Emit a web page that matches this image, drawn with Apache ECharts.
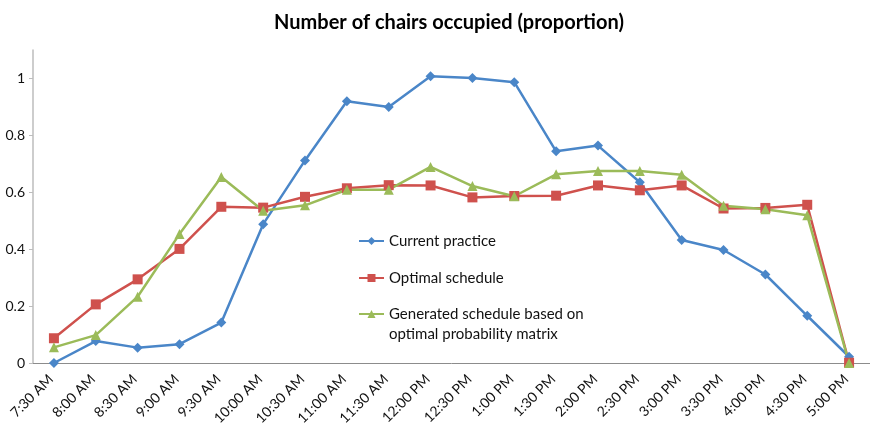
<!DOCTYPE html>
<html>
<head>
<meta charset="utf-8">
<script src="https://cdn.jsdelivr.net/npm/echarts@6/dist/echarts.min.js"></script>
<style>html,body{margin:0;padding:0;background:#fff}#c{width:870px;height:435px}</style>
</head>
<body>
<div id="c"></div>
<script>
const categories = ['7:30 AM','8:00 AM','8:30 AM','9:00 AM','9:30 AM','10:00 AM','10:30 AM','11:00 AM','11:30 AM','12:00 PM','12:30 PM','1:00 PM','1:30 PM','2:00 PM','2:30 PM','3:00 PM','3:30 PM','4:00 PM','4:30 PM','5:00 PM'];
const currentPractice = [0.000,0.077,0.054,0.066,0.142,0.488,0.712,0.920,0.900,1.008,1.002,0.987,0.744,0.764,0.635,0.432,0.397,0.311,0.166,0.022];
const optimalSchedule = [0.087,0.206,0.294,0.401,0.549,0.546,0.584,0.614,0.625,0.624,0.582,0.587,0.588,0.624,0.607,0.624,0.543,0.545,0.556,0.001];
const generatedSchedule = [0.055,0.098,0.233,0.453,0.654,0.535,0.554,0.609,0.609,0.689,0.622,0.586,0.663,0.675,0.675,0.662,0.553,0.540,0.519,0.000];
const yTicks = [0, 0.2, 0.4, 0.6, 0.8, 1];
</script>
<script>
const FONT = 'Lato';
const chart = echarts.init(document.getElementById('c'), null, {renderer: 'canvas'});
const names = ['Current practice', 'Optimal schedule', 'Generated schedule based on optimal probability matrix'];
const colors = ['#4A86C8', '#CF514D', '#9BBB59'];
const legendBase = {
  orient: 'vertical', left: 353, itemWidth: 25, itemHeight: 10, itemGap: 0,
  textStyle: {fontFamily: FONT, fontSize: 15, color: '#111', lineHeight: 20},
  selectedMode: false
};
chart.setOption({
  animation: false,
  textStyle: {fontFamily: FONT},
  title: {
    text: 'Number of chairs occupied (proportion)',
    left: 444, textAlign: 'center', top: 8,
    textStyle: {fontFamily: FONT, fontSize: 20, fontWeight: 'bold', color: '#000'}
  },
  legend: [
    Object.assign({}, legendBase, {top: 226, data: [names[0]]}),
    Object.assign({}, legendBase, {top: 263, data: [names[1]]}),
    Object.assign({}, legendBase, {top: 279, data: [names[2]],
      formatter: () => ' \nGenerated schedule based on\noptimal probability matrix'})
  ],
  grid: {left: 33, top: 50, bottom: 72, width: 846, containLabel: false},
  xAxis: {
    type: 'category', data: categories, boundaryGap: true,
    axisLine: {lineStyle: {color: '#8c8c8c', width: 1}},
    axisTick: {show: false},
    axisLabel: {rotate: 45, interval: 0, fontSize: 14, color: '#111', fontFamily: FONT, margin: 11,
      padding: [0, 4, 0, 0]}
  },
  yAxis: {
    type: 'value', min: 0, max: 1.1, interval: 0.2,
    splitLine: {show: false},
    axisLine: {show: true, lineStyle: {color: '#bdbdbd', width: 1.5}},
    axisTick: {show: true, length: 4, lineStyle: {color: '#bdbdbd'}},
    axisLabel: {fontSize: 14, color: '#111', fontFamily: FONT, margin: 8, showMaxLabel: false,
      formatter: v => yTicks.some(t => Math.abs(t - v) < 1e-9) ? String(+v.toFixed(1)) : ''}
  },
  series: [
    {name: names[0], type: 'line', data: currentPractice, symbol: 'diamond', symbolSize: 10,
     itemStyle: {color: colors[0]}, lineStyle: {color: colors[0], width: 2.5}},
    {name: names[1], type: 'line', data: optimalSchedule, symbol: 'rect', symbolSize: 10,
     itemStyle: {color: colors[1]}, lineStyle: {color: colors[1], width: 2.5}},
    {name: names[2], type: 'line', data: generatedSchedule, symbol: 'triangle', symbolSize: 10,
     itemStyle: {color: colors[2]}, lineStyle: {color: colors[2], width: 2.5}}
  ]
});
</script>
</body>
</html>
